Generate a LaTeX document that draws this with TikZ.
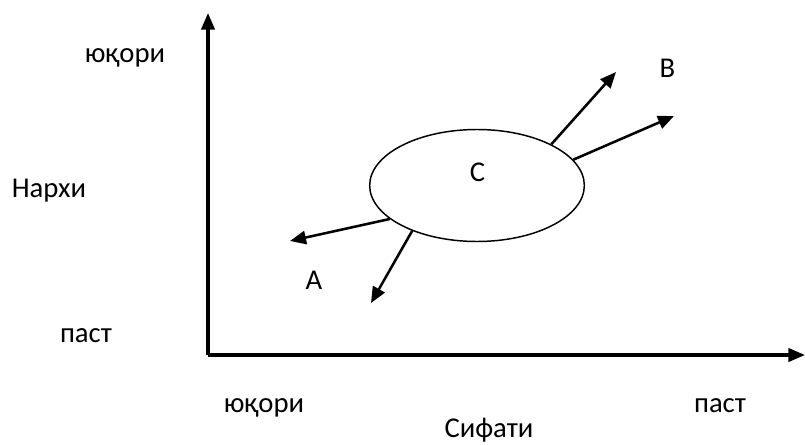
\documentclass[tikz,border=0pt]{standalone}
\usepackage{fontspec}
\setmainfont{Carlito}
\usetikzlibrary{arrows.meta, shapes.geometric}

\begin{document}
\begin{tikzpicture}[x=0.75pt, y=-0.75pt, font=\fontsize{21.5}{25}\selectfont,
  lbl/.style={anchor=base, inner sep=0pt},
  axis/.style={line width=2.3pt, -{Triangle[length=12.5pt, width=10pt]}},
  pull/.style={line width=1.9pt, -{Triangle[length=12pt, width=10pt]}}]
	\useasboundingbox (0,0) rectangle (805,445);
	% axes
	\coordinate (O) at (208,355);
	\coordinate (ytop) at (208,13);
	\coordinate (xend) at (805,355);
	\draw[axis] (O) -- (ytop);
	\draw[axis] (O) -- (xend);
	% axis labels
	\node[lbl] (yhigh) at (125,63) {юқори};
	\node[lbl] (price) at (49,198) {Нархи};
	\node[lbl] (ylow) at (86,342) {паст};
	\node[lbl] (xhigh) at (264,412) {юқори};
	\node[lbl] (xlow) at (720,412) {паст};
	\node[lbl] (quality) at (489,437) {Сифати};
	% centre
	\node[draw, line width=1.1pt, ellipse, minimum width=161pt, minimum height=84pt,
	      inner sep=0pt] (market) at (477,185.5) {};
	\node[lbl] (C) at (477.5,181.5) {С};
	% directions
	\coordinate (a1) at (290,241);
	\coordinate (a2) at (371,303);
	\coordinate (b1) at (616,72);
	\coordinate (b2) at (674,116);
	\draw[pull] (market.201) -- (a1);
	\draw[pull] (market.215) -- (a2);
	\draw[pull] (market.29) -- (b1);
	\draw[pull] (market.15) -- (b2);
	\node[lbl] (A) at (314,289) {А};
	\node[lbl] (B) at (667.5,78) {В};
\end{tikzpicture}
\end{document}
